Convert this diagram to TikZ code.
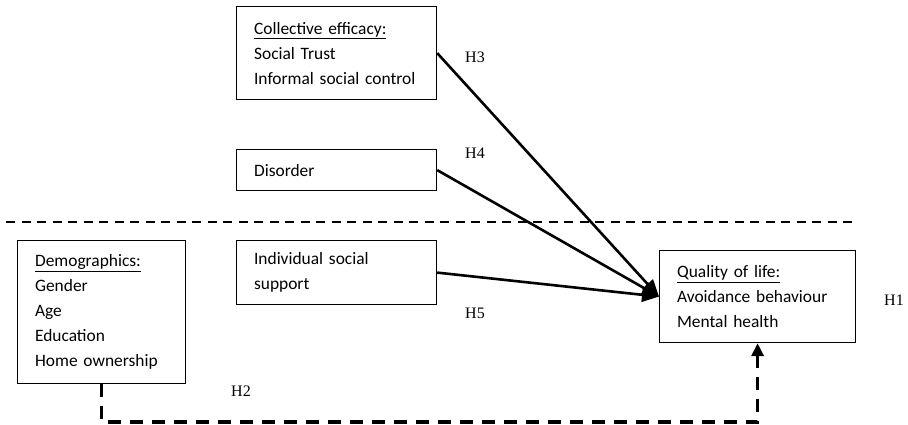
\documentclass[tikz,border=0pt]{standalone}
\usepackage{fontspec}
\setmainfont{Liberation Serif}
\newfontfamily\boxfont{Carlito}
\usetikzlibrary{arrows.meta}

\tikzset{
  varbox/.style={draw, line width=1.2pt, rectangle, anchor=north west,
    align=left, inner xsep=17.5pt, inner ysep=0pt,
    font=\boxfont\fontsize{17.4}{25}\selectfont},
  hyp/.style={font=\fontsize{16}{16}\selectfont, inner sep=0pt},
  effect/.style={line width=2.6pt, -{Triangle[length=17pt,width=14pt]}},
  control/.style={line width=3.3pt, dash pattern=on 13pt off 9pt,
    -{Triangle[length=13pt,width=12pt]}},
  divider/.style={line width=1.6pt, dash pattern=on 9pt off 6.5pt}
}

\begin{document}
\begin{tikzpicture}[x=1pt,y=-1pt]
  \useasboundingbox (0,0) rectangle (908,424);

% BOXES =======================================================================
  \node[varbox, text width=165pt, minimum height=93pt] (coll) at (236,6)
    {\underline{Collective efficacy:}\\Social Trust\\Informal social control};
  \node[varbox, text width=165pt, minimum height=41pt] (dis) at (236,149)
    {Disorder};
  \node[varbox, text width=165pt, minimum height=64pt] (indiv) at (236,240)
    {Individual social\\support};
  \node[varbox, text width=133pt, minimum height=143pt] (demo) at (17,240)
    {\underline{Demographics:}\\Gender\\Age\\Education\\Home ownership};
  \node[varbox, text width=161pt, minimum height=92pt] (qual) at (659,250)
    {\underline{Quality of life:}\\Avoidance behaviour\\Mental health};

% DIVIDER =====================================================================
  \draw[divider] (6,222) to (855,222);

% PATHS =======================================================================
  \draw[effect] (coll.east) to (qual.west);
  \draw[effect] (dis.east) to (qual.west);
  \draw[effect] (indiv.east) to (qual.west);

  \coordinate (base) at (0,422);
  \draw[control] (demo.south) -- (demo.south |- base) -| (qual.south);

% HYPOTHESES ==================================================================
  \node[hyp] (h3) at (475,57) {H3};
  \node[hyp] (h4) at (475,153) {H4};
  \node[hyp] (h5) at (475,313) {H5};
  \node[hyp] (h2) at (241,391) {H2};
  \node[hyp] (h1) at (894,300) {H1};

\end{tikzpicture}
\end{document}
